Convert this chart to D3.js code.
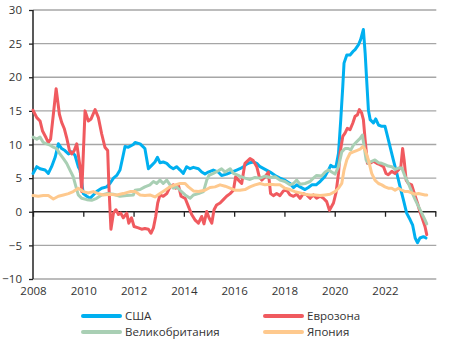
<!DOCTYPE html>
<html>
<head>
<meta charset="utf-8">
<script src="https://cdn.jsdelivr.net/npm/d3@7"></script>
<style>
  body { margin: 0; background: #fff; }
  svg text { font-family: "Open Sans", sans-serif; font-size: 11.5px; fill: #333; }
</style>
</head>
<body>
<svg width="450" height="343"></svg>
<script>
// [year, value] pairs
var usa = [[2008.00,5.7],[2008.15,6.7],[2008.28,6.4],[2008.48,6.2],[2008.61,5.7],[2008.74,6.7],[2008.88,8.1],[2009.01,10.1],[2009.14,9.4],[2009.27,9.1],[2009.41,8.6],[2009.54,8.9],[2009.67,8.4],[2009.80,6.7],[2009.87,6.2],[2010.00,2.7],[2010.14,2.3],[2010.27,2.0],[2010.40,2.5],[2010.53,3.0],[2010.73,3.5],[2010.93,3.7],[2011.06,4.2],[2011.20,5.0],[2011.33,5.4],[2011.46,6.2],[2011.57,8.1],[2011.66,9.7],[2011.79,9.6],[2011.99,10.0],
  [2012.06,10.3],[2012.26,10.1],[2012.45,9.4],[2012.59,6.4],[2012.72,6.9],[2012.85,7.4],[2012.95,8.1],[2013.05,7.3],[2013.18,7.4],[2013.32,7.2],[2013.45,6.7],[2013.58,6.4],[2013.71,6.7],[2013.85,6.2],[2013.98,5.7],[2014.11,6.7],[2014.25,6.4],[2014.38,6.6],[2014.58,6.4],[2014.71,5.9],[2014.84,5.6],[2014.97,5.9],[2015.17,6.2],[2015.37,5.9],[2015.50,5.4],[2015.70,5.6],[2015.90,5.9],[2016.10,6.2],
  [2016.23,6.4],[2016.37,6.7],[2016.50,7.1],[2016.63,7.3],[2016.76,7.4],[2016.90,7.2],[2017.03,6.7],[2017.23,6.3],[2017.43,5.9],[2017.63,5.4],[2017.82,5.0],[2018.02,4.7],[2018.22,4.2],[2018.36,3.6],[2018.49,4.0],[2018.62,3.7],[2018.82,3.3],[2018.95,3.6],[2019.09,4.0],[2019.26,4.0],[2019.42,4.5],[2019.62,5.3],[2019.75,6.2],[2019.84,6.9],
  [2019.92,6.7],[2020.05,6.7],[2020.15,8.7],[2020.24,13.7],[2020.32,18.6],[2020.37,22.1],[2020.48,23.3],[2020.61,23.3],[2020.72,23.8],[2020.81,24.1],[2020.94,24.8],[2021.03,25.6],[2021.14,27.1],[2021.21,23.6],[2021.27,19.6],[2021.34,15.1],[2021.41,13.7],[2021.54,13.2],[2021.63,13.8],[2021.74,12.9],[2021.87,12.7],[2022.00,12.7],[2022.10,11.2],[2022.20,9.7],[2022.33,7.7],[2022.47,5.7],[2022.60,3.7],[2022.73,1.8],[2022.86,-0.2],[2023.00,-1.2],[2023.10,-2.0],[2023.20,-3.9],[2023.29,-4.6],[2023.39,-3.9],[2023.53,-3.7],[2023.63,-3.9]];

var euro = [[2008.00,15.1],[2008.15,14.0],[2008.28,13.5],[2008.38,12.0],[2008.52,11.0],[2008.61,10.3],[2008.70,10.8],[2008.81,14.5],[2008.92,18.3],[2009.05,14.5],[2009.14,13.3],[2009.25,12.3],[2009.34,11.0],[2009.45,9.1],[2009.54,8.6],[2009.64,9.1],[2009.74,10.1],[2009.87,6.7],[2009.94,3.0],[2010.07,15.0],[2010.20,13.5],[2010.31,13.8],[2010.47,15.2],[2010.60,14.0],[2010.73,11.6],[2010.86,9.6],[2010.97,9.1],[2011.02,3.7],[2011.10,-2.6],[2011.20,-0.2],[2011.30,0.3],[2011.40,-0.4],[2011.49,-0.2],[2011.59,-0.9],[2011.73,-0.2],[2011.81,-1.7],[2011.92,-0.9],[2012.02,-2.2],
  [2012.19,-2.4],[2012.32,-2.6],[2012.45,-2.5],[2012.59,-2.6],[2012.69,-3.2],[2012.79,-2.4],[2012.88,-0.7],[2012.96,1.3],[2013.05,2.5],[2013.18,2.3],[2013.32,2.7],[2013.45,3.7],[2013.58,4.0],[2013.67,3.5],[2013.78,4.0],[2013.89,2.3],[2014.05,2.0],[2014.18,0.8],[2014.31,-0.4],[2014.44,-1.2],[2014.58,-1.7],[2014.71,-0.7],[2014.80,-1.8],[2014.91,0.05],[2015.00,-0.9],[2015.11,-1.7],[2015.20,0.3],[2015.30,1.0],[2015.44,1.3],[2015.57,1.8],[2015.70,2.3],[2015.84,2.7],[2015.97,3.2],[2016.06,5.2],[2016.17,4.7],
  [2016.30,4.2],[2016.43,7.2],[2016.63,7.9],[2016.76,7.6],[2016.90,6.7],[2017.00,5.2],[2017.10,4.7],[2017.23,5.2],[2017.36,5.9],[2017.45,2.7],[2017.56,2.4],[2017.69,2.7],[2017.82,2.4],[2017.96,3.1],[2018.09,3.2],[2018.22,2.5],[2018.36,2.3],[2018.49,2.6],[2018.62,2.0],[2018.75,2.7],[2018.89,2.5],[2019.02,2.0],[2019.15,2.5],[2019.28,2.0],[2019.42,2.3],[2019.55,2.0],[2019.68,1.5],[2019.79,0.2],
  [2019.95,1.3],[2020.05,2.8],[2020.15,5.7],[2020.21,8.7],[2020.32,11.2],[2020.41,11.7],[2020.50,12.4],[2020.61,12.2],[2020.72,13.2],[2020.81,14.2],[2020.90,14.4],[2020.98,15.2],[2021.07,14.7],[2021.14,13.7],[2021.21,10.7],[2021.30,7.2],[2021.41,7.2],[2021.54,7.5],[2021.67,7.2],[2021.80,7.0],[2021.94,6.7],[2022.04,5.7],[2022.13,5.5],[2022.27,6.0],[2022.40,5.7],[2022.53,6.2],[2022.63,6.7],[2022.70,9.4],[2022.76,7.7],[2022.84,4.7],[2022.93,4.2],[2023.06,4.0],[2023.16,2.8],[2023.29,1.3],[2023.39,0],[2023.50,-1.2],[2023.59,-2.2],[2023.66,-3.4]];

var uk = [[2008.00,11.1],[2008.15,10.8],[2008.28,11.1],[2008.41,10.3],[2008.54,10.1],[2008.68,9.9],[2008.81,9.6],[2008.94,9.4],[2009.07,8.6],[2009.21,7.9],[2009.34,7.2],[2009.47,6.2],[2009.60,5.2],[2009.71,3.7],[2009.80,2.5],[2009.94,2.0],[2010.14,1.8],[2010.33,1.7],[2010.53,2.0],[2010.73,2.5],[2010.93,2.7],[2011.20,2.6],[2011.46,2.3],[2011.73,2.4],[2011.99,2.5],
  [2012.06,3.2],[2012.26,3.3],[2012.45,3.7],[2012.65,4.0],[2012.79,4.5],[2012.92,4.2],[2013.05,4.7],[2013.18,4.2],[2013.32,4.7],[2013.45,4.0],[2013.58,3.5],[2013.71,3.7],[2013.85,3.2],[2014.05,2.5],[2014.25,2.0],[2014.38,2.5],[2014.58,2.7],[2014.78,3.0],[2014.91,4.7],[2015.00,5.4],[2015.17,5.7],[2015.37,6.1],[2015.50,6.4],[2015.64,5.9],[2015.84,6.4],[2015.97,5.7],[2016.17,5.4],
  [2016.23,5.3],[2016.43,5.0],[2016.63,4.8],[2016.83,5.1],[2017.03,5.0],[2017.23,5.3],[2017.43,5.1],[2017.63,5.2],[2017.82,4.7],[2018.02,4.5],[2018.22,4.0],[2018.36,4.2],[2018.49,4.7],[2018.62,4.1],[2018.82,4.2],[2019.02,4.5],[2019.15,5.0],[2019.28,5.4],[2019.48,5.3],[2019.62,5.9],[2019.75,6.2],
  [2020.01,5.6],[2020.15,6.7],[2020.28,8.9],[2020.41,9.4],[2020.54,9.4],[2020.64,9.2],[2020.74,9.9],[2020.87,10.4],[2021.01,10.9],[2021.10,11.4],[2021.17,9.7],[2021.25,7.7],[2021.34,7.2],[2021.47,7.5],[2021.60,7.7],[2021.74,7.3],[2021.87,7.2],[2022.00,7.0],[2022.13,6.8],[2022.27,6.7],[2022.40,6.3],[2022.53,6.5],[2022.67,6.5],[2022.80,5.2],[2022.93,4.2],[2023.06,3.0],[2023.20,1.8],[2023.33,0.8],[2023.46,-0.2],[2023.59,-1.2],[2023.66,-1.8]];

var japan = [[2008.00,2.4],[2008.21,2.3],[2008.41,2.4],[2008.61,2.4],[2008.81,1.9],[2009.01,2.3],[2009.21,2.5],[2009.41,2.7],[2009.60,3.0],[2009.80,3.5],[2010.00,3.0],[2010.20,2.8],[2010.40,3.0],[2010.60,2.7],[2010.80,2.5],[2011.06,2.6],[2011.33,2.5],[2011.59,2.7],[2011.86,3.0],
  [2012.06,3.0],[2012.26,2.5],[2012.45,2.4],[2012.65,2.5],[2012.85,2.2],[2013.05,2.7],[2013.25,3.2],[2013.45,3.7],[2013.65,4.0],[2013.85,4.2],[2014.05,4.2],[2014.18,3.7],[2014.38,3.1],[2014.58,3.0],[2014.84,3.2],[2015.04,3.6],[2015.24,3.7],[2015.44,4.0],[2015.64,3.8],[2015.84,3.5],[2016.03,3.2],
  [2016.23,3.2],[2016.43,3.3],[2016.63,3.7],[2016.83,4.0],[2017.03,4.2],[2017.23,4.0],[2017.43,4.1],[2017.63,4.0],[2017.82,4.0],[2018.02,3.5],[2018.22,3.3],[2018.42,3.0],[2018.62,2.8],[2018.82,2.6],[2019.02,2.5],[2019.22,2.5],[2019.42,2.4],[2019.62,2.5],[2019.81,2.6],
  [2020.01,3.0],[2020.15,3.5],[2020.28,4.2],[2020.37,6.2],[2020.48,7.7],[2020.61,8.7],[2020.74,8.9],[2020.87,9.1],[2021.01,9.3],[2021.11,9.7],[2021.21,9.2],[2021.34,7.7],[2021.47,5.7],[2021.60,4.7],[2021.74,4.2],[2021.87,4.0],[2022.00,3.7],[2022.13,3.5],[2022.27,3.5],[2022.40,3.2],[2022.53,3.5],[2022.67,3.2],[2022.80,3.0],[2022.93,3.0],[2023.06,2.8],[2023.20,2.6],[2023.33,2.7],[2023.46,2.6],[2023.59,2.5],[2023.66,2.5]];

var seriesNames = ["США", "Еврозона", "Великобритания", "Япония"];
var seriesColors = ["#00b0f0", "#f05a5f", "#a9cfb4", "#fec98e"];
var yTicks = [-10, -5, 0, 5, 10, 15, 20, 25, 30];
var xTicks = [2008, 2010, 2012, 2014, 2016, 2018, 2020, 2022, 2024];
var xLabels = [2008, 2010, 2012, 2014, 2016, 2018, 2020, 2022];

var margin = {left: 33, right: 14.7, top: 10, bottom: 64};
var width = 450, height = 343;

var svg = d3.select('svg');

var xScale = d3.scaleLinear()
  .domain([2008, 2024])
  .range([margin.left, width - margin.right]);
var yScale = d3.scaleLinear()
  .domain([-10, 30])
  .range([height - margin.bottom, margin.top]);

// gridlines
svg.append('g')
  .selectAll('line')
  .data(yTicks.filter(function(d) { return d !== 0; }))
  .enter()
  .append('line')
  .attr('x1', xScale(2008))
  .attr('x2', xScale(2024) + 1)
  .attr('y1', function(d) { return yScale(d); })
  .attr('y2', function(d) { return yScale(d); })
  .attr('stroke', '#a6a6a6')
  .attr('stroke-width', 1.3);

// y axis
var yAxis = d3.axisLeft(yScale).tickValues(yTicks).tickSize(4).tickPadding(7);
var gy = svg.append('g')
  .attr('transform', 'translate(' + margin.left + ',0)')
  .call(yAxis);
gy.select('.domain').remove();
gy.selectAll('.tick line').attr('stroke', '#222').attr('stroke-width', 1.3);
gy.append('line')
  .attr('x1', 0).attr('x2', 0)
  .attr('y1', yScale(30)).attr('y2', yScale(-10))
  .attr('stroke', '#222').attr('stroke-width', 1.5);

// zero line with ticks
var xAxisZero = d3.axisBottom(xScale).tickValues(xTicks).tickSize(5).tickFormat('');
var gx0 = svg.append('g')
  .attr('transform', 'translate(0,' + yScale(0) + ')')
  .call(xAxisZero);
gx0.select('.domain').attr('stroke', '#222').attr('stroke-width', 1.5).attr('d', 'M' + xScale(2008) + ',0H' + (xScale(2024) + 1));
gx0.selectAll('.tick line').attr('stroke', '#222').attr('stroke-width', 1.3);

// bottom year labels
var xAxisLabels = d3.axisBottom(xScale).tickValues(xLabels).tickSize(0).tickPadding(0).tickFormat(d3.format('d'));
var gx = svg.append('g')
  .attr('transform', 'translate(0,' + (yScale(-10) + 8) + ')')
  .call(xAxisLabels);
gx.select('.domain').remove();

svg.selectAll('.tick text').style('font-family', '"Open Sans", sans-serif').style('font-size', '11.5px').attr('fill', '#333');

// lines
var line = d3.line()
  .x(function(d) { return xScale(d[0]); })
  .y(function(d) { return yScale(d[1]); })
  .curve(d3.curveLinear);

var allSeries = [usa, euro, uk, japan];
svg.append('g')
  .selectAll('path')
  .data(allSeries)
  .enter()
  .append('path')
  .attr('d', line)
  .attr('fill', 'none')
  .attr('stroke', function(d, i) { return seriesColors[i]; })
  .attr('stroke-width', 3)
  .attr('stroke-linejoin', 'round')
  .attr('stroke-linecap', 'round');

// legend
var legendX = [83, 265];
var legendY = [316, 332];
var leg = svg.append('g')
  .selectAll('g')
  .data(seriesNames)
  .enter()
  .append('g')
  .attr('transform', function(d, i) { return 'translate(' + legendX[i % 2] + ',' + legendY[Math.floor(i / 2)] + ')'; });
leg.append('line')
  .attr('x1', 0).attr('x2', 37)
  .attr('stroke', function(d, i) { return seriesColors[i]; })
  .attr('stroke-width', 4)
  .attr('stroke-linecap', 'round');
leg.append('text')
  .attr('x', 42)
  .attr('dy', '0.35em')
  .text(function(d) { return d; });
</script>
</body>
</html>
